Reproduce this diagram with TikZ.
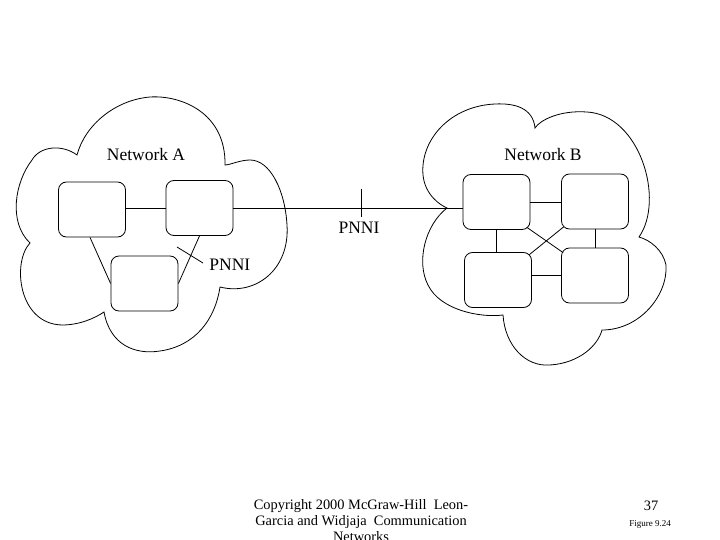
\documentclass[tikz,border=0pt]{standalone}
\usepackage{fontspec}
\setmainfont{Liberation Serif}
\usepackage{tikz}

\tikzset{
  switchbox/.style={draw, rounded corners=8pt, minimum width=67pt, minimum height=55pt, inner sep=0pt},
  lbl/.style={font=\fontsize{17.5}{20}\selectfont, inner sep=0pt},
}

\begin{document}
\begin{tikzpicture}[x=1pt, y=-1pt, line width=0.8pt]
  \useasboundingbox (0,0) rectangle (720,540);
  % network A: cloud
  \draw (77,155) .. controls (62,144) and (40,146) .. (32,160)
    .. controls (15,182) and (8,222) .. (30,243)
    .. controls (12,262) and (18,324) .. (62,325)
    .. controls (80,325) and (95,318) .. (104,312)
    .. controls (110,345) and (135,355) .. (160,351)
    .. controls (195,346) and (215,320) .. (220,287)
    .. controls (255,296) and (290,270) .. (287,225)
    .. controls (285,190) and (270,160) .. (250,160)
    .. controls (240,160) and (230,165) .. (225,165)
    .. controls (226,112) and (180,95) .. (150,97)
    .. controls (115,100) and (85,125) .. (77,155) -- cycle;
  % network B: cloud
  \draw (535,128) .. controls (533,108) and (515,103) .. (495,104)
    .. controls (450,106) and (420,140) .. (423,175)
    .. controls (425,195) and (440,205) .. (447,208)
    .. controls (425,225) and (416,262) .. (428,285)
    .. controls (440,310) and (480,318) .. (503,315)
    .. controls (505,345) and (525,367) .. (550,365)
    .. controls (580,363) and (598,345) .. (602,330)
    .. controls (640,330) and (668,295) .. (666,265)
    .. controls (663,250) and (650,240) .. (639,237)
    .. controls (665,200) and (640,115) .. (587,112)
    .. controls (560,110) and (540,120) .. (535,128) -- cycle;

  \node[lbl] (netA) at (146,155) {Network A};
  \node[lbl] (netB) at (543,155) {Network B};

  % switches
  \node[switchbox] (a1) at (92,209.5) {};
  \node[switchbox] (a2) at (199.5,208) {};
  \node[switchbox] (a3) at (144.5,283.5) {};
  \node[switchbox] (b1) at (496.5,202) {};
  \node[switchbox] (b2) at (595,201.5) {};
  \node[switchbox] (b3) at (498,280) {};
  \node[switchbox] (b4) at (595,275.5) {};

  % links inside A
  \draw (a2.west -| a1.east) -- (a2.west);
  \draw ([xshift=-2pt]a1.south) -- (a3.west);
  \draw (a2.south) -- (a3.east);
  % links inside B
  \draw (b1.east) -- (b1.east -| b2.west);
  \draw (b4.west -| b3.east) -- (b4.west);
  \draw (b1.south) -- (b1.south |- b3.north);
  \draw (b2.south) -- (b4.north);
  \draw ([shift={(-3.5,-2.5)}]b1.south east) -- ([shift={(2,5)}]b4.north west);
  \draw ([shift={(2.5,-2.5)}]b2.south west) -- ([shift={(-2.5,2.5)}]b3.north east);
  % A to B
  \draw (a2.east) -- (a2.east -| b1.west);

  % PNNI marks
  \coordinate (tickB) at (361,189);
  \draw (tickB) -- (361,217);
  \node[lbl] (pnniB) at (359,228) {PNNI};
  \coordinate (tickA) at (177,247);
  \node[lbl, anchor=west] (pnniA) at (209,265) {PNNI};
  \draw (tickA) -- ([shift={(-6,-2)}]pnniA.west);

  % footer
  \node[anchor=north, align=center, inner sep=0pt, font=\fontsize{14.4}{16}\selectfont] (copy) at (361,499)
    {Copyright 2000 McGraw-Hill\ \ Leon-\\Garcia and Widjaja\ \ Communication\\Networks};
  \node[inner sep=0pt, font=\fontsize{14.4}{16}\selectfont] (page) at (651,506) {37};
  \node[inner sep=0pt, font=\fontsize{9}{10}\selectfont] (fig) at (650,524) {Figure 9.24};
\end{tikzpicture}
\end{document}
